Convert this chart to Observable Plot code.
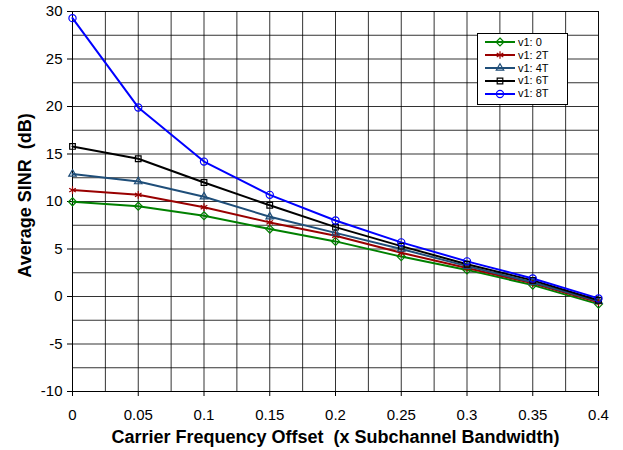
<!DOCTYPE html>
<html>
<head>
<meta charset="utf-8">
<script src="https://cdn.jsdelivr.net/npm/d3@7"></script>
<script src="https://cdn.jsdelivr.net/npm/@observablehq/plot@0.6"></script>
<style>
  html, body { margin: 0; padding: 0; background: #fff; }
  #wrap { position: relative; width: 623px; height: 450px; }
  #legend {
    position: absolute; left: 477px; top: 33px; width: 91px; height: 72px;
    border: 1px solid #000; background: #fff; box-sizing: border-box;
    font-family: "Liberation Sans", Arial, sans-serif; font-size: 11px; line-height: 12.8px;
    padding-top: 2px;
  }
  #legend .row { display: flex; align-items: center; height: 12.8px; }
  #legend svg { margin-left: 7px; margin-right: 3px; flex: none; }
  #legend span { white-space: nowrap; }
</style>
</head>
<body>
<div id="wrap"><div id="legend"></div></div>
<script>
const xValues = [0, 0.05, 0.1, 0.15, 0.2, 0.25, 0.3, 0.35, 0.4];
const seriesNames = ["v1: 0", "v1: 2T", "v1: 4T", "v1: 6T", "v1: 8T"];
const v0  = [9.97, 9.5, 8.5, 7.1, 5.8, 4.2, 2.8, 1.2, -0.8];
const v2T = [11.2, 10.7, 9.4, 7.8, 6.4, 4.6, 3.0, 1.4, -0.6];
const v4T = [12.9, 12.1, 10.5, 8.4, 6.7, 5.0, 3.2, 1.5, -0.5];
const v6T = [15.8, 14.5, 12.0, 9.6, 7.3, 5.3, 3.4, 1.7, -0.4];
const v8T = [29.3, 19.9, 14.2, 10.7, 8.0, 5.7, 3.7, 1.9, -0.2];
const seriesValues = [v0, v2T, v4T, v6T, v8T];
const colors = ["#008000", "#990000", "#1F4E79", "#000000", "#0000FF"];
const symbols = ["diamond2", "asterisk", "triangle2", "square2", "circle"];
const xTicks = [0, 0.05, 0.1, 0.15, 0.2, 0.25, 0.3, 0.35, 0.4];
const yTicks = [-10, -5, 0, 5, 10, 15, 20, 25, 30];
const xGrid = d3.range(0, 0.4001, 0.025);
const yGrid = d3.range(-10, 30.001, 2.5);
const xLabel = "Carrier Frequency Offset  (x Subchannel Bandwidth)";
const yLabel = "Average SINR  (dB)";

const data = seriesNames.flatMap((name, i) =>
  xValues.map((x, j) => ({ series: name, x, y: seriesValues[i][j] })));

const font = "'Liberation Sans', Arial, sans-serif";
const chart = Plot.plot({
  width: 623, height: 450,
  marginLeft: 72, marginRight: 25, marginTop: 11, marginBottom: 59,
  style: { fontFamily: font, fontSize: "15px", background: "#fff", color: "#000" },
  x: { domain: [0, 0.4] },
  y: { domain: [-10, 30] },
  color: { domain: seriesNames, range: colors },
  symbol: { domain: seriesNames, range: symbols },
  marks: [
    Plot.ruleX(xGrid, { stroke: "#000", strokeOpacity: 0.8, strokeWidth: 1 }),
    Plot.ruleY(yGrid, { stroke: "#000", strokeOpacity: 0.8, strokeWidth: 1 }),
    Plot.frame({ stroke: "#000", strokeOpacity: 0.8 }),
    Plot.axisX({ ticks: xTicks, tickSize: 5, tickPadding: 13, label: null, tickFormat: d => String(+d.toFixed(2)), fontSize: 15 }),
    Plot.axisY({ ticks: yTicks, tickSize: 5, tickPadding: 5, label: null, tickFormat: d => String(d), fontSize: 15 }),
    Plot.ruleX([0], { stroke: "#000" }),
    Plot.ruleY([-10], { stroke: "#000" }),
    Plot.line(data, { x: "x", y: "y", z: "series", stroke: "series", strokeWidth: 2 }),
    Plot.dot(data, { x: "x", y: "y", stroke: "series", symbol: "series", r: 3.6, strokeWidth: 1.2, fill: "none" }),
    Plot.text([xLabel], { frameAnchor: "bottom", dy: 46, lineAnchor: "middle", textAnchor: "middle", fontWeight: "bold", fontSize: 18 }),
    Plot.text([yLabel], { frameAnchor: "left", dx: -47, dy: -6, rotate: -90, lineAnchor: "middle", textAnchor: "middle", fontWeight: "bold", fontSize: 18 })
  ]
});
document.getElementById("wrap").prepend(chart);
// keep the double spaces of the axis titles
chart.querySelectorAll("text").forEach(t => {
  if (t.textContent === xLabel || t.textContent === yLabel) { t.setAttribute("xml:space", "preserve"); t.style.whiteSpace = "pre"; }
});

// legend built from the same series definitions
const legend = document.getElementById("legend");
const symMap = { diamond2: d3.symbolDiamond2, asterisk: d3.symbolAsterisk, triangle2: d3.symbolTriangle2, square2: d3.symbolSquare2, circle: d3.symbolCircle };
seriesNames.forEach((name, i) => {
  const row = document.createElement("div");
  row.className = "row";
  const sym = d3.symbol(symMap[symbols[i]], 40)();
  row.innerHTML = `<svg width="30" height="12"><line x1="0" x2="30" y1="6" y2="6" stroke="${colors[i]}" stroke-width="2"/><path transform="translate(15,6)" d="${sym}" fill="none" stroke="${colors[i]}" stroke-width="1.2"/></svg><span>${name}</span>`;
  legend.appendChild(row);
});
</script>
</body>
</html>
